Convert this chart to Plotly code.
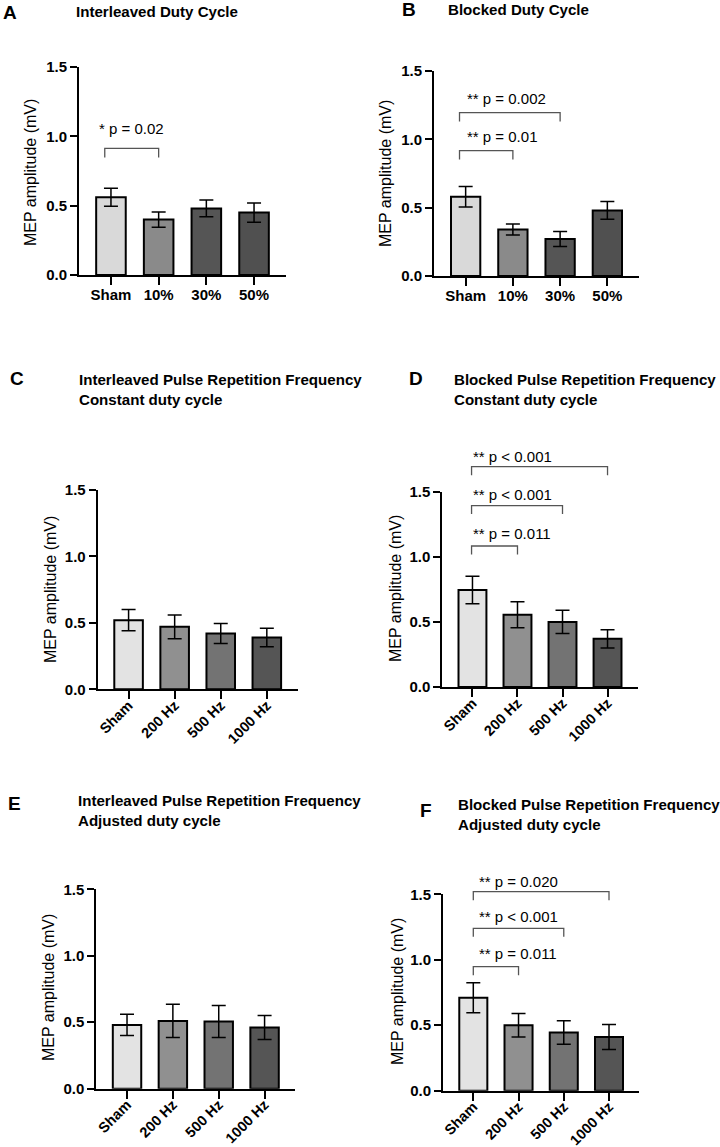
import plotly.graph_objects as go

### data (MEP amplitude in mV, mean +/- SEM)
duty_labels = ["Sham", "10%", "30%", "50%"]
prf_labels = ["Sham", "200 Hz", "500 Hz", "1000 Hz"]

a_vals = [0.56, 0.40, 0.48, 0.45]
a_err = [0.065, 0.055, 0.06, 0.07]
b_vals = [0.58, 0.34, 0.27, 0.48]
b_err = [0.075, 0.04, 0.055, 0.065]
c_vals = [0.52, 0.47, 0.42, 0.39]
c_err = [0.08, 0.09, 0.075, 0.07]
d_vals = [0.745, 0.555, 0.50, 0.37]
d_err = [0.105, 0.10, 0.09, 0.07]
e_vals = [0.48, 0.51, 0.505, 0.46]
e_err = [0.08, 0.125, 0.12, 0.09]
f_vals = [0.71, 0.50, 0.445, 0.41]
f_err = [0.115, 0.09, 0.09, 0.095]

duty_colors = ["#d9d9d9", "#8a8a8a", "#555555", "#505050"]
prf_colors = ["#e3e3e3", "#909090", "#737373", "#555555"]

# significance brackets: (from group, to group, height in mV, label, label height)
a_sig = [(0, 1, 0.913, "* p = 0.02", 1.06)]
b_sig = [(0, 1, 0.917, "** p = 0.01", 1.02),
         (0, 2, 1.195, "** p = 0.002", 1.30)]
d_sig = [(0, 1, 1.083, "** p = 0.011", 1.18),
         (0, 2, 1.393, "** p < 0.001", 1.48),
         (0, 3, 1.692, "** p < 0.001", 1.77)]
f_sig = [(0, 1, 0.947, "** p = 0.011", 1.05),
         (0, 2, 1.24, "** p < 0.001", 1.33),
         (0, 3, 1.52, "** p = 0.020", 1.597)]

FONT = "Liberation Sans, Arial, sans-serif"
YMAX = 1.5
W, H = 720, 1147


def px(x):
    return x / W


def py(y):
    return 1 - y / H


# panel layout, all positions in page pixels
panels = [
    dict(letter="A", title="Interleaved Duty Cycle", vals=a_vals, err=a_err,
         labels=duty_labels, colors=duty_colors, sig=a_sig,
         xd=(79, 286), yd=(275, 67), rot=False,
         bx=-0.13, tx=-0.28, letter_pos=(2, 12), title_pos=(75, 11.5), ytitle=(30, 173)),
    dict(letter="B", title="Blocked Duty Cycle", vals=b_vals, err=b_err,
         labels=duty_labels, colors=duty_colors, sig=b_sig,
         xd=(434, 639), yd=(276, 71), rot=False,
         bx=-0.13, tx=0.0, letter_pos=(401, 9), title_pos=(447, 9), ytitle=(385, 174)),
    dict(letter="C", title="Interleaved Pulse Repetition Frequency<br>Constant duty cycle",
         vals=c_vals, err=c_err, labels=prf_labels, colors=prf_colors, sig=[],
         xd=(97.7, 297.7), yd=(689.3, 490), rot=True,
         bx=0, tx=0, letter_pos=(9, 379), title_pos=(78, 389), ytitle=(50, 590)),
    dict(letter="D", title="Blocked Pulse Repetition Frequency<br>Constant duty cycle",
         vals=d_vals, err=d_err, labels=prf_labels, colors=prf_colors, sig=d_sig,
         xd=(442.3, 637.7), yd=(687, 491.7), rot=True,
         bx=-0.02, tx=0.0, letter_pos=(408, 379), title_pos=(453, 389), ytitle=(395, 589)),
    dict(letter="E", title="Interleaved Pulse Repetition Frequency<br>Adjusted duty cycle",
         vals=e_vals, err=e_err, labels=prf_labels, colors=prf_colors, sig=[],
         xd=(96.3, 295.3), yd=(1088.7, 889.3), rot=True,
         bx=0, tx=0, letter_pos=(7, 803), title_pos=(77, 810), ytitle=(48, 988)),
    dict(letter="F", title="Blocked Pulse Repetition Frequency<br>Adjusted duty cycle",
         vals=f_vals, err=f_err, labels=prf_labels, colors=prf_colors, sig=f_sig,
         xd=(443, 639.3), yd=(1090.7, 894.3), rot=True,
         bx=0, tx=0.1, letter_pos=(419, 810), title_pos=(457, 814), ytitle=(397, 992)),
]

fig = go.Figure()
shapes = []
annotations = []

for i, p in enumerate(panels):
    n = "" if i == 0 else str(i + 1)
    xname, yname = "x" + n, "y" + n
    ydom = [py(p["yd"][0]), py(p["yd"][1])]
    fig.add_trace(go.Bar(
        x=list(range(len(p["vals"]))), y=p["vals"], width=0.62,
        marker=dict(color=p["colors"], line=dict(color="black", width=2)),
        error_y=dict(type="data", array=p["err"], color="black",
                     thickness=1.5, width=7),
        xaxis=xname, yaxis=yname, showlegend=False,
    ))
    fig.update_layout(**{
        "xaxis" + n: dict(domain=[px(p["xd"][0]), px(p["xd"][1])], anchor=yname,
                          range=[-0.67, 3.67], automargin=False,
                          tickvals=list(range(4)), ticktext=p["labels"],
                          tickangle=-45 if p["rot"] else 0,
                          ticklabelstandoff=-8 if p["rot"] else -3,
                          ticks="outside", ticklen=8, tickwidth=2, tickcolor="black",
                          showline=True, linewidth=2, linecolor="black",
                          showgrid=False, zeroline=False,
                          tickfont=dict(family=FONT, size=14.5 if p["rot"] else 15,
                                        color="black", weight="bold")),
        "yaxis" + n: dict(domain=ydom, anchor=xname, range=[0, YMAX], automargin=False,
                          tickvals=[0, 0.5, 1.0, 1.5], tickformat=".1f",
                          ticks="outside", ticklen=7, tickwidth=2, tickcolor="black",
                          showline=True, linewidth=2, linecolor="black",
                          showgrid=False, zeroline=False,
                          tickfont=dict(family=FONT, size=15, color="black", weight="bold")),
    })

    # mV -> paper height for this panel (brackets go above the axis top)
    def ypaper(v, yd=ydom):
        return yd[0] + (yd[1] - yd[0]) * v / YMAX

    for g0, g1, h, label, th in p["sig"]:
        drop = 0.065
        shapes.append(dict(type="path", xref=xname, yref="paper",
                           path="M %f,%f L %f,%f L %f,%f L %f,%f" % (
                               g0 + p["bx"], ypaper(h - drop), g0 + p["bx"], ypaper(h),
                               g1, ypaper(h), g1, ypaper(h - drop)),
                           line=dict(color="#555555", width=1.3)))
        annotations.append(dict(x=g0 + p["tx"], y=ypaper(th), xref=xname, yref="paper",
                                text=label, showarrow=False, xanchor="left",
                                yanchor="middle", borderpad=0,
                                font=dict(family=FONT, size=15, color="black")))

    # y axis title
    annotations.append(dict(x=px(p["ytitle"][0]), y=py(p["ytitle"][1]),
                            xref="paper", yref="paper", text="MEP amplitude (mV)",
                            textangle=-90, showarrow=False, borderpad=0,
                            xanchor="center", yanchor="middle",
                            font=dict(family=FONT, size=16, color="black")))
    # panel letter and title
    annotations.append(dict(x=px(p["letter_pos"][0]), y=py(p["letter_pos"][1]),
                            xref="paper", yref="paper", text="<b>%s</b>" % p["letter"],
                            showarrow=False, xanchor="left", yanchor="middle", borderpad=0,
                            font=dict(family=FONT, size=19, color="black")))
    annotations.append(dict(x=px(p["title_pos"][0]), y=py(p["title_pos"][1]),
                            xref="paper", yref="paper", text="<b>%s</b>" % p["title"],
                            showarrow=False, xanchor="left", yanchor="middle", align="left",
                            borderpad=0,
                            font=dict(family=FONT, size=15.1, color="black")))

fig.update_layout(width=W, height=H, margin=dict(l=0, r=0, t=0, b=0, autoexpand=False),
                  paper_bgcolor="white", plot_bgcolor="white",
                  shapes=shapes, annotations=annotations)
# drop the default page margin so the figure fills the window exactly
fig.write_html("out.html", config={"displayModeBar": False},
               post_script="document.body.style.margin = '0';")
